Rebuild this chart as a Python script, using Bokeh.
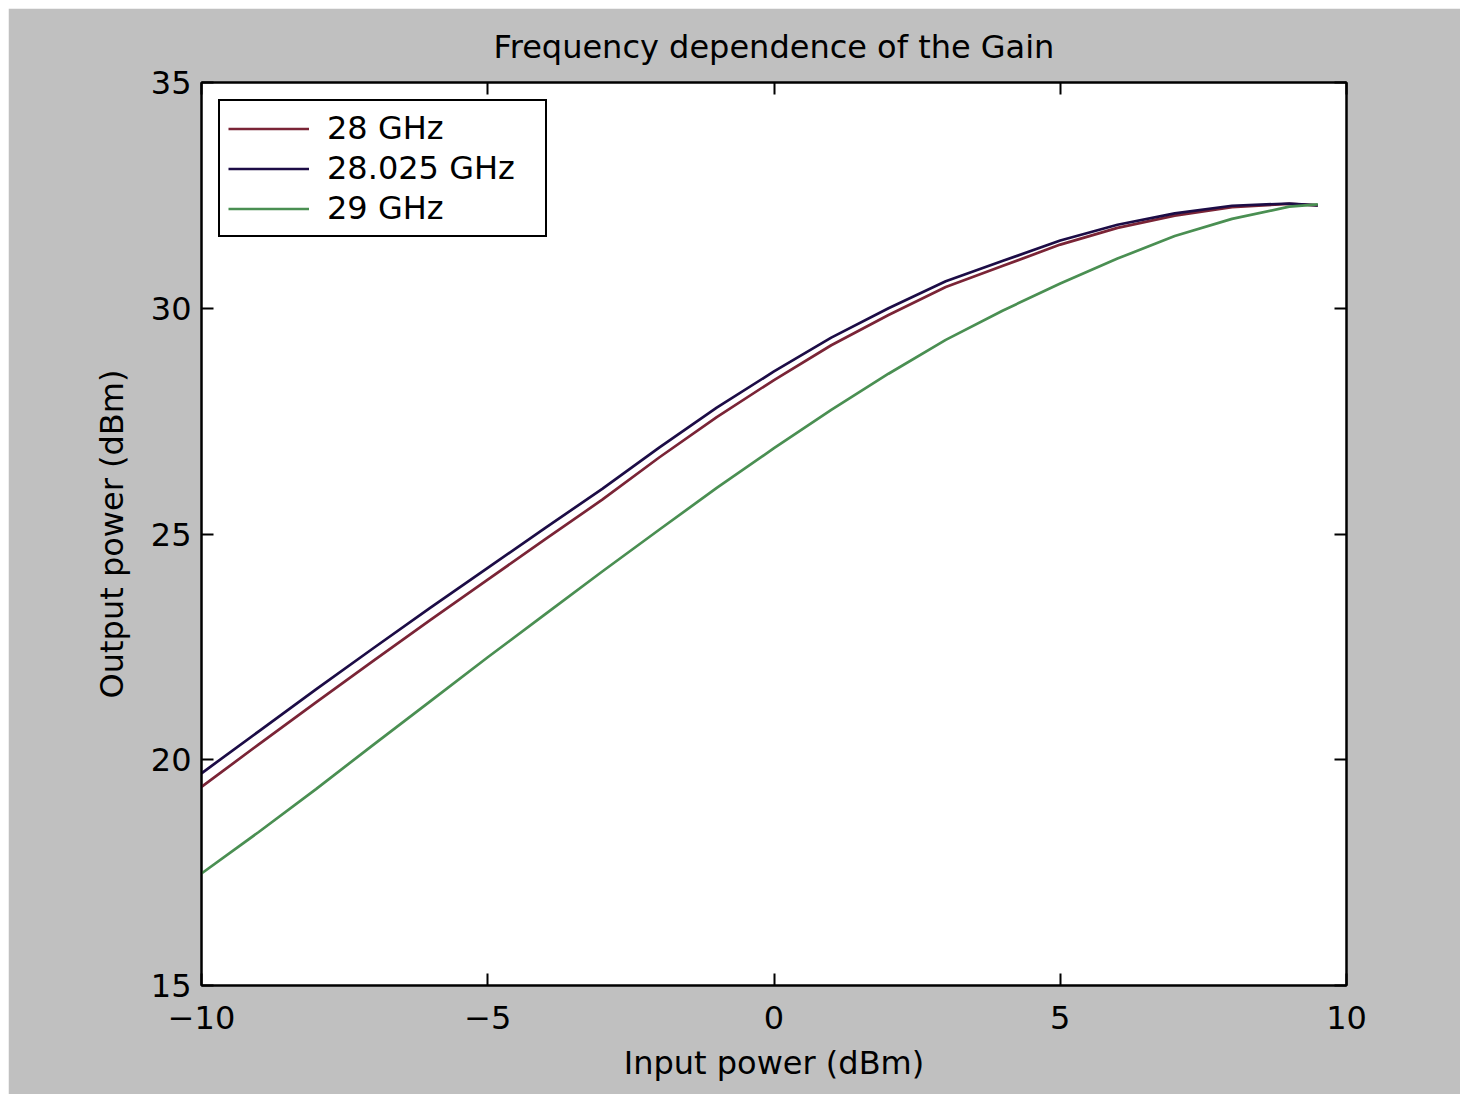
from bokeh.plotting import figure
from bokeh.models import LinearAxis, FixedTicker, Range1d, Legend, LegendItem, Spacer
from bokeh.layouts import column, row
from bokeh.embed import file_html
from bokeh.resources import INLINE

# ---- data ----
input_dbm = [-10, -9, -8, -7, -6, -5, -4, -3, -2, -1, 0, 1, 2, 3, 4, 5, 6, 7, 8, 9, 9.5]
out_28ghz = [19.40, 20.34, 21.27, 22.19, 23.10, 23.99, 24.88, 25.76, 26.70, 27.59, 28.41,
             29.18, 29.85, 30.47, 30.94, 31.41, 31.78, 32.05, 32.24, 32.31, 32.28]
out_28025ghz = [19.70, 20.63, 21.56, 22.47, 23.37, 24.25, 25.13, 26.00, 26.92, 27.80, 28.60,
                29.35, 30.00, 30.60, 31.05, 31.50, 31.85, 32.10, 32.27, 32.32, 32.28]
out_29ghz = [17.48, 18.40, 19.35, 20.33, 21.30, 22.27, 23.22, 24.17, 25.10, 26.02, 26.90,
             27.75, 28.55, 29.30, 29.95, 30.55, 31.10, 31.60, 31.98, 32.25, 32.30]
series_labels = ["28 GHz", "28.025 GHz", "29 GHz"]
x_ticks = [-10, -5, 0, 5, 10]
x_tick_labels = ["\u221210", "\u22125", "0", "5", "10"]
y_ticks = [15, 20, 25, 30, 35]
y_tick_labels = ["15", "20", "25", "30", "35"]

FONT = "DejaVu Sans"
FS = "32px"

p = figure(width=1452, height=1086,
           x_range=Range1d(-10, 10), y_range=Range1d(15, 35),
           x_axis_type=None, y_axis_type=None,
           output_backend="svg", toolbar_location=None,
           min_border_left=193, min_border_right=114,
           min_border_top=74, min_border_bottom=109,
           background_fill_color="white", border_fill_color="#c0c0c0",
           outline_line_color="black", outline_line_width=2)

p.xgrid.visible = False
p.ygrid.visible = False

p.title.text = "Frequency dependence of the Gain"
p.title.align = "center"
p.title.text_font = FONT
p.title.text_font_size = FS
p.title.text_font_style = "normal"
p.title.text_color = "black"
p.title.standoff = 33

ax_bottom = LinearAxis()
ax_left = LinearAxis()
ax_top = LinearAxis()
ax_right = LinearAxis()
p.add_layout(ax_bottom, "below")
p.add_layout(ax_left, "left")
p.add_layout(ax_top, "above")
p.add_layout(ax_right, "right")

for ax, ticks, labels in [(ax_bottom, x_ticks, x_tick_labels), (ax_left, y_ticks, y_tick_labels),
                          (ax_top, x_ticks, x_tick_labels), (ax_right, y_ticks, y_tick_labels)]:
    ax.ticker = FixedTicker(ticks=ticks)
    ax.major_label_overrides = {t: l for t, l in zip(ticks, labels)}
    ax.major_tick_in = 12
    ax.major_tick_out = 0
    ax.major_tick_line_color = "black"
    ax.major_tick_line_width = 2
    ax.minor_tick_line_color = None
    ax.axis_line_color = "black"
    ax.axis_line_width = 2
    ax.major_label_text_font = FONT
    ax.major_label_text_font_size = FS
    ax.major_label_text_color = "black"
    ax.axis_label_text_font = FONT
    ax.axis_label_text_font_size = FS
    ax.axis_label_text_font_style = "normal"
    ax.axis_label_text_color = "black"

# top and right axes only carry the inward ticks (box style)
for ax, ticks in ((ax_top, x_ticks), (ax_right, y_ticks)):
    ax.major_label_overrides = {t: "" for t in ticks}
    ax.major_label_text_color = None
    ax.major_label_standoff = 0

ax_bottom.axis_label = "Input power (dBm)"
ax_left.axis_label = "Output power (dBm)"
ax_bottom.major_label_standoff = 20
ax_bottom.axis_label_standoff = 12
ax_left.major_label_standoff = 10
ax_left.axis_label_standoff = 17

r1 = p.line(input_dbm, out_28ghz, line_color="#7a2436", line_width=2.7)
r2 = p.line(input_dbm, out_28025ghz, line_color="#1c0c46", line_width=2.7)
r3 = p.line(input_dbm, out_29ghz, line_color="#4a8f52", line_width=2.7)

legend = Legend(items=[LegendItem(label=series_labels[0], renderers=[r1]),
                       LegendItem(label=series_labels[1], renderers=[r2]),
                       LegendItem(label=series_labels[2], renderers=[r3])],
                location="top_left")
legend.margin = 17
legend.padding = 8
legend.spacing = 2
legend.glyph_width = 81
legend.glyph_height = 37
legend.label_height = 37
legend.label_width = 210
legend.label_standoff = 18
legend.label_text_font = FONT
legend.label_text_font_size = FS
legend.label_text_color = "black"
legend.border_line_color = "black"
legend.border_line_alpha = 1.0
legend.border_line_width = 2
legend.background_fill_color = "white"
legend.background_fill_alpha = 1.0
p.add_layout(legend)

page = column(Spacer(height=8), row(Spacer(width=8), p))
open("out.html", "w").write(file_html(page, INLINE))
